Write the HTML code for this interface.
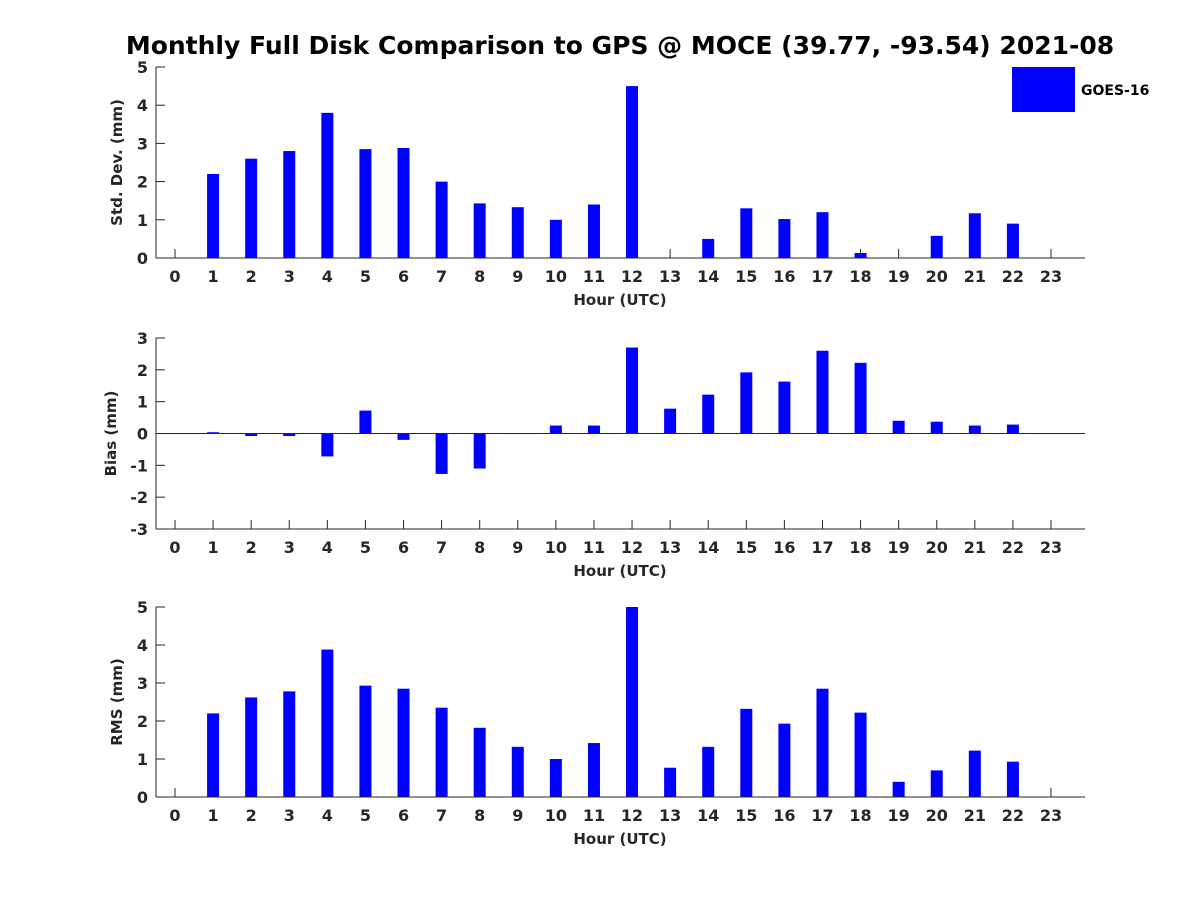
<!DOCTYPE html>
<html><head><meta charset="utf-8"><style>
html,body{margin:0;padding:0;background:#fff;width:1200px;height:900px;overflow:hidden}
svg text{font-family:"DejaVu Sans","Liberation Sans",sans-serif;font-weight:bold;fill:#262626}
</style></head><body>
<svg id="c" width="1200" height="900" xmlns="http://www.w3.org/2000/svg">
<text x="620" y="54" text-anchor="middle" font-size="25" style="fill:#000">Monthly Full Disk Comparison to GPS @ MOCE (39.77, -93.54) 2021-08</text>
<g>
<rect x="1012" y="67" width="63" height="45" fill="#0000ff"/>
<text x="1081" y="95" font-size="14" style="fill:#000">GOES-16</text>
</g>
</svg>
<script>
const hours=[0,1,2,3,4,5,6,7,8,9,10,11,12,13,14,15,16,17,18,19,20,21,22,23];
const stdVals=[null,2.2,2.6,2.8,3.8,2.85,2.88,2.0,1.43,1.33,1.0,1.4,4.5,null,0.5,1.3,1.02,1.2,0.13,null,0.58,1.17,0.9,null];
const biasVals=[null,0.04,-0.08,-0.08,-0.72,0.72,-0.2,-1.27,-1.1,0,0.25,0.25,2.7,0.78,1.22,1.92,1.63,2.6,2.22,0.4,0.37,0.25,0.28,null];
const rmsVals=[null,2.2,2.62,2.78,3.88,2.93,2.85,2.35,1.82,1.32,1.0,1.42,5.0,0.77,1.32,2.32,1.93,2.85,2.22,0.4,0.7,1.22,0.93,null];
const stdTicks=[0,1,2,3,4,5];
const biasTicks=[-3,-2,-1,0,1,2,3];
const rmsTicks=[0,1,2,3,4,5];
const NS='http://www.w3.org/2000/svg';
const svg=document.getElementById('c');
function mk(t,a,p){const e=document.createElementNS(NS,t);for(const k in a)e.setAttribute(k,a[k]);(p||svg).appendChild(e);return e;}
function panel(name,vals,ticks,ymin,ymax,top,bot,ylabel){
  const g=mk('g',{});
  
  
  const L=156,R=1085;
  const xs=h=>175+h*(1051-175)/23;
  const ys=v=>bot-(v-ymin)/(ymax-ymin)*(bot-top);
  hours.forEach(h=>{
    mk('line',{x1:xs(h),y1:bot,x2:xs(h),y2:bot-9,stroke:'#262626'},g);
  });
  vals.forEach((v,i)=>{
    if(v===null)return;
    const y0=ys(0),y1=ys(v);
    const r=mk('rect',{x:xs(hours[i])-6,y:Math.min(y0,y1),width:12,height:Math.max(Math.abs(y1-y0),0.5),fill:'#0000ff'},g);
    
    
  });
  mk('line',{x1:L,y1:top,x2:L,y2:bot,stroke:'#262626','stroke-width':1},g);
  mk('line',{x1:L,y1:bot,x2:R,y2:bot,stroke:'#262626','stroke-width':1},g);
  if(ymin<0) mk('line',{x1:L,y1:ys(0),x2:R,y2:ys(0),stroke:'#262626','stroke-width':1},g);
  hours.forEach(h=>{
    const t=mk('text',{x:xs(h),y:bot+24,'text-anchor':'middle','font-size':16},g);t.textContent=h;
    
    
  });
  ticks.forEach(v=>{
    mk('line',{x1:L,y1:ys(v),x2:L+9,y2:ys(v),stroke:'#262626'},g);
    const t=mk('text',{x:L-8,y:ys(v)+6,'text-anchor':'end','font-size':16},g);t.textContent=v;
    
    
  });
  const xl=mk('text',{x:620,y:bot+47,'text-anchor':'middle','font-size':15},g);xl.textContent='Hour (UTC)';
  
  
  const cy=(top+bot)/2;
  const yx=ymin<0?120:126;
  const yl=mk('text',{x:yx-4,y:cy,'text-anchor':'middle','font-size':15,transform:'rotate(-90 '+(yx-4)+' '+cy+')'},g);yl.textContent=ylabel;
  
  
}
panel('std-dev',stdVals,stdTicks,0,5,67,258,'Std. Dev. (mm)');
panel('bias',biasVals,biasTicks,-3,3,338,529,'Bias (mm)');
panel('rms',rmsVals,rmsTicks,0,5,607,797,'RMS (mm)');
</script>
</body></html>
